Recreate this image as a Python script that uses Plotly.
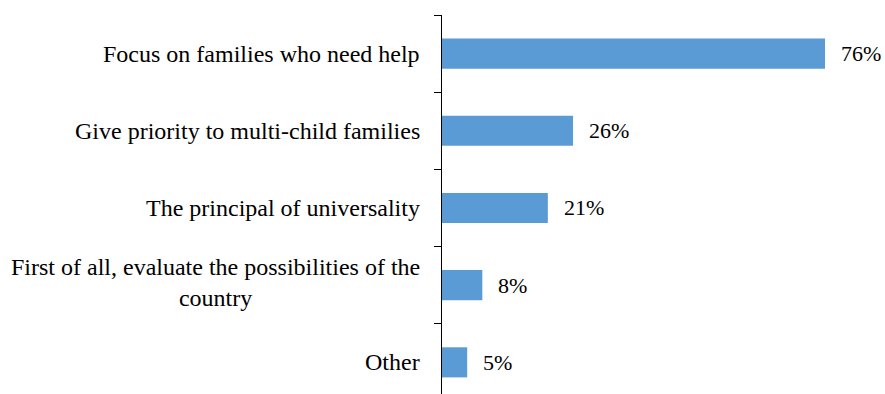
import plotly.graph_objects as go

# Survey answers, listed bottom to top
categories = [
    "Other",
    "First of all, evaluate the possibilities of the<br>country",
    "The principal of universality",
    "Give priority to multi-child families",
    "Focus on families who need help",
]
values = [5, 8, 21, 26, 76]
value_labels = ["5%", "8%", "21%", "26%", "76%"]

FONT = "'Times New Roman', 'Liberation Serif', 'DejaVu Serif', serif"
CAT_FS = 24
VAL_FS = 22
BAR_COLOR = "#5B9BD5"

fig = go.Figure()
fig.add_trace(go.Bar(
    x=values,
    y=categories,
    orientation="h",
    marker=dict(color=BAR_COLOR, line=dict(width=0)),
    width=0.39,
    hoverinfo="skip",
))

annotations = []
# Category labels, right-aligned to the axis, multi-line text centred
for cat in categories:
    annotations.append(dict(
        x=0, xref="paper", y=cat, yref="y",
        text=cat, showarrow=False,
        xanchor="right", yanchor="middle", align="center",
        xshift=-20, yshift=3 if "<br>" in cat else 0,
        font=dict(family=FONT, size=CAT_FS, color="#000000"),
    ))
# Value labels just past the end of each bar
for cat, v, lab in zip(categories, values, value_labels):
    annotations.append(dict(
        x=v, xref="x", y=cat, yref="y",
        text=lab, showarrow=False,
        xanchor="left", yanchor="middle",
        xshift=14,
        font=dict(family=FONT, size=VAL_FS, color="#000000"),
    ))

fig.update_layout(
    width=885, height=394,
    margin=dict(l=442, r=0, t=15, b=0),
    paper_bgcolor="white", plot_bgcolor="white",
    showlegend=False,
    annotations=annotations,
    xaxis=dict(range=[0, 87.9], visible=False, fixedrange=True),
    yaxis=dict(
        type="category",
        categoryorder="array", categoryarray=categories,
        range=[-0.41, 4.5],
        showticklabels=False,
        showline=True, linecolor="#000000", linewidth=1,
        ticks="outside", tickson="boundaries", ticklen=7,
        tickcolor="#000000", tickwidth=1,
        showgrid=False, zeroline=False, fixedrange=True,
    ),
)

fig.write_html("out.html")
